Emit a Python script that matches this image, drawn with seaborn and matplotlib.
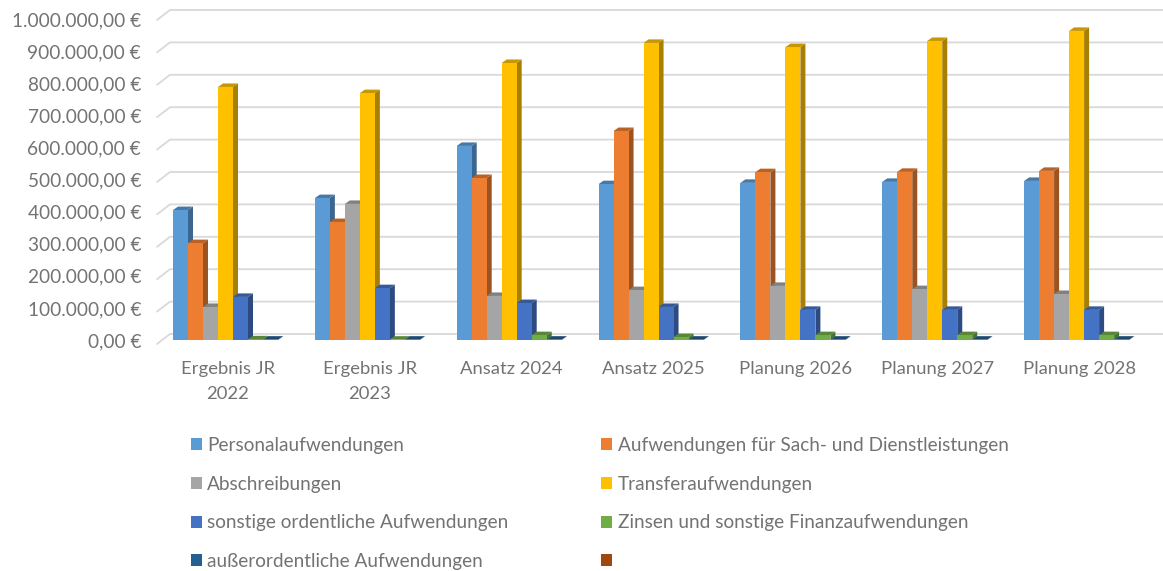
import numpy as np
import pandas as pd
import matplotlib
matplotlib.use("Agg")
import matplotlib.pyplot as plt
import seaborn as sns
from matplotlib.patches import Patch, Polygon
from matplotlib.ticker import FuncFormatter
from matplotlib.transforms import Affine2D

categories = ["Ergebnis JR\n2022", "Ergebnis JR\n2023", "Ansatz 2024", "Ansatz 2025",
              "Planung 2026", "Planung 2027", "Planung 2028"]
series_names = ["Personalaufwendungen", "Aufwendungen für Sach- und Dienstleistungen",
                "Abschreibungen", "Transferaufwendungen",
                "sonstige ordentliche Aufwendungen", "Zinsen und sonstige Finanzaufwendungen",
                "außerordentliche Aufwendungen", " "]
colors = ["#5B9BD5", "#ED7D31", "#A5A5A5", "#FFC000", "#4472C4", "#70AD47", "#255E91", "#9E480E"]

personal = [401000, 438000, 599000, 481000, 485000, 488000, 491000]
sach = [299000, 364000, 500000, 645000, 518000, 519000, 522000]
abschreibungen = [102000, 420000, 136000, 154000, 167000, 157000, 142000]
transfer = [781000, 762000, 855000, 917000, 904000, 923000, 954000]
sonstige = [133000, 160000, 114000, 102000, 93000, 93000, 93000]
zinsen = [2000, 1000, 15000, 9000, 15000, 15000, 15000]
ausserordentlich = [1000, 1000, 1000, 1000, 1000, 1000, 1000]
leer = [0, 0, 0, 0, 0, 0, 0]
all_values = [personal, sach, abschreibungen, transfer, sonstige, zinsen, ausserordentlich, leer]

W, H = 1163, 571
text_col = "#737373"
grid_col = "#d9d9d9"
step = 141.85

sns.set_theme(style="white")
plt.rcParams["font.family"] = ["Lato", "DejaVu Sans"]

rows = []
for name, vals in zip(series_names, all_values):
    for cat, v in zip(categories, vals):
        rows.append({"kat": cat, "serie": name, "wert": v})
df = pd.DataFrame(rows)

fig = plt.figure(figsize=(W / 100, H / 100), dpi=100, facecolor="white")
# Achse = Ebene der Balkenfront, 0 bei y=340 px
ax = fig.add_axes([157 / W, (H - 340) / H, 7 * step / W, 324 / H])
ax.set_facecolor("none")

sns.barplot(data=df, x="kat", y="wert", hue="serie", order=categories, hue_order=series_names,
            palette=colors, saturation=1, width=120 / step, legend=False, ax=ax, zorder=3,
            linewidth=0)

ax.set_xlim(-76 / step, 7 - 76 / step)
ax.set_ylim(0, 1000000)

# Umrechnung Pixel -> Daten
px_x = 1 / step
px_y = 1000000 / 324

# Gitter mit schraegem Boden-/Wandanschluss
for t in np.arange(0, 1000001, 100000):
    xs = [ax.get_xlim()[0], ax.get_xlim()[0] + 13 * px_x, ax.get_xlim()[0] + 1006 * px_x]
    ys = [t - 4 * px_y, t + 6 * px_y, t + 6 * px_y]
    ax.plot(xs, ys, color=grid_col, lw=1.3, clip_on=False, zorder=1, solid_joinstyle="miter")

# 3D-Seiten und Deckel aus den Balken ableiten
depth_x = 5 * px_x
depth_y = 3.5 * px_y
for cont, col in zip(ax.containers, colors):
    rgb = np.array(matplotlib.colors.to_rgb(col))
    for bar in cont:
        h = bar.get_height()
        if h <= 0:
            continue
        x0 = bar.get_x()
        x1 = x0 + bar.get_width()
        side = [(x1, 0), (x1 + depth_x, depth_y), (x1 + depth_x, h + depth_y), (x1, h)]
        top = [(x0, h), (x0 + depth_x, h + depth_y), (x1 + depth_x, h + depth_y), (x1, h)]
        ax.add_patch(Polygon(side, closed=True, fc=rgb * 0.66, ec="none", zorder=2, clip_on=False))
        ax.add_patch(Polygon(top, closed=True, fc=rgb * 0.78, ec="none", zorder=2, clip_on=False))

sns.despine(ax=ax, left=True, bottom=True)
ax.grid(False)
ax.set_xlabel("")
ax.set_ylabel("")

yticks = np.arange(0, 1000001, 100000)
ax.set_yticks(yticks)
ax.yaxis.set_major_formatter(FuncFormatter(
    lambda v, _: f"{v:,.2f} €".replace(",", "#").replace(".", ",").replace("#", ".")))
ax.tick_params(axis="y", length=0, pad=11.5, labelsize=13.7, labelcolor=text_col)
# Achsenbeschriftung liegt etwas enger als das Gitter
fig.canvas.draw()
for t, tick in zip(yticks, ax.yaxis.get_major_ticks()):
    lab = tick.label1
    lab.set_transform(lab.get_transform() + Affine2D().translate(0, -t / 1000000 * 3))
ax.set_xticks(np.arange(7) - 5 / step)
ax.set_xticklabels(categories, linespacing=1.7)
ax.tick_params(axis="x", length=0, pad=15, labelsize=13.3, labelcolor=text_col)

# Legende spaltenweise, zwei Spalten
order = [0, 2, 4, 6, 1, 3, 5, 7]
handles = [Patch(fc=colors[i], ec="none") for i in order]
labels = [series_names[i] for i in order]
fig.legend(handles, labels, ncol=2, loc="upper left", bbox_to_anchor=(190.5 / W, 1 - 437 / H),
           bbox_transform=fig.transFigure, frameon=False, fontsize=13.7, labelcolor=text_col,
           handlelength=0.58, handleheight=0.58, handletextpad=0.3, labelspacing=1.14,
           columnspacing=4.85, borderpad=0, borderaxespad=0)

fig.savefig("out.png", dpi=100)
